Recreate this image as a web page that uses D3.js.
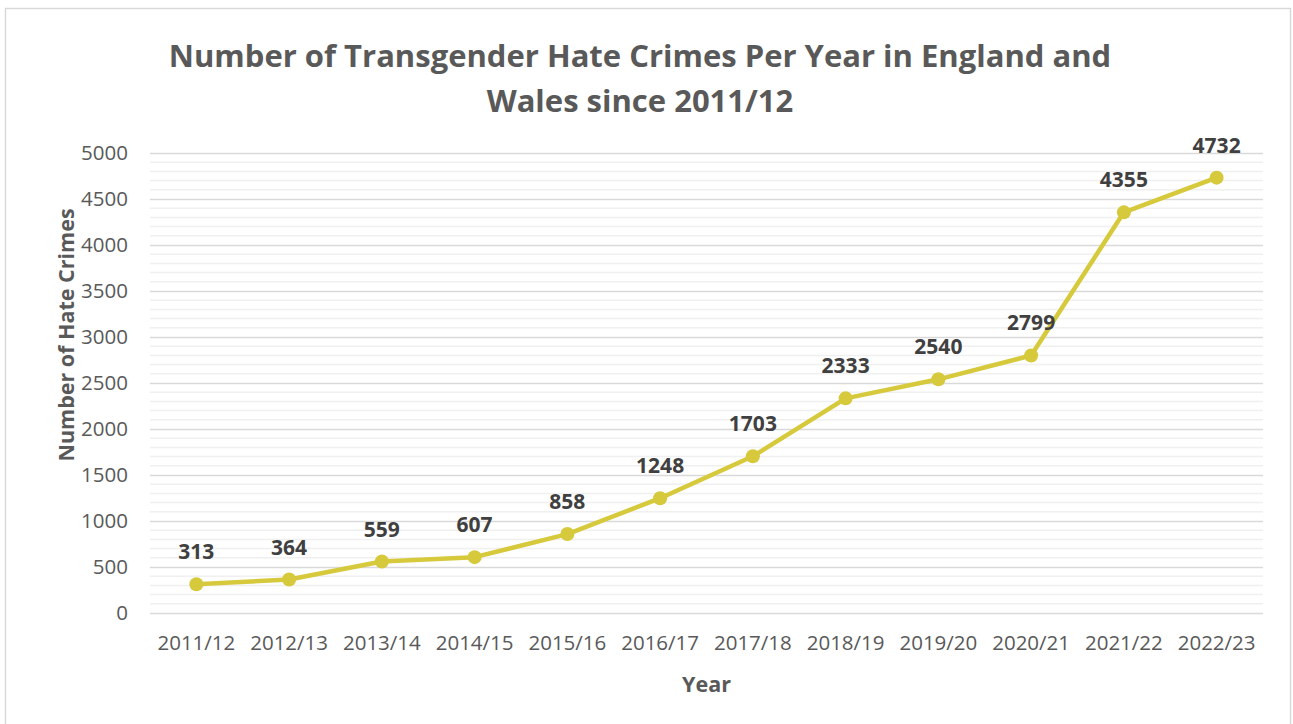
<!DOCTYPE html>
<html>
<head>
<meta charset="utf-8">
<script src="https://cdn.jsdelivr.net/npm/d3@7"></script>
<style>
  html, body { margin: 0; padding: 0; background: #fff; }
  svg { display: block; }
</style>
</head>
<body>
<svg id="chart" width="1293" height="724"></svg>
<script>
// Transgender hate crimes recorded by police, England and Wales
const years = ["2011/12", "2012/13", "2013/14", "2014/15", "2015/16", "2016/17",
               "2017/18", "2018/19", "2019/20", "2020/21", "2021/22", "2022/23"];
const crimes = [313, 364, 559, 607, 858, 1248, 1703, 2333, 2540, 2799, 4355, 4732];
const yTicks = [0, 500, 1000, 1500, 2000, 2500, 3000, 3500, 4000, 4500, 5000];
const titleLines = ["Number of Transgender Hate Crimes Per Year in England and", "Wales since 2011/12"];
const xTitle = "Year";
const yTitle = "Number of Hate Crimes";

const font = "'Open Sans', sans-serif";
const svg = d3.select("#chart");

const plot = { left: 150, right: 1263, top: 153, bottom: 613 };

// Chart frame
svg.append("rect")
  .attr("x", 5.5).attr("y", 8.5)
  .attr("width", 1285).attr("height", 730)
  .attr("fill", "#fff")
  .attr("stroke", "#d9d9d9").attr("stroke-width", 1.5);

const x = d3.scaleBand().domain(years).range([plot.left, plot.right]);
const y = d3.scaleLinear().domain([0, 5000]).range([plot.bottom, plot.top]);

// Minor gridlines every 100
const minor = d3.range(0, 5001, 100).filter(v => v % 500 !== 0);
svg.append("g").selectAll("line").data(minor).join("line")
  .attr("x1", plot.left).attr("x2", plot.right)
  .attr("y1", d => y(d)).attr("y2", d => y(d))
  .attr("stroke", "#f0f0f0").attr("stroke-width", 1.5);

// Major gridlines and y-axis labels
const yAxis = d3.axisLeft(y).tickValues(yTicks).tickFormat(d3.format("d"))
  .tickSize(-(plot.right - plot.left)).tickPadding(22);
const gy = svg.append("g").attr("transform", `translate(${plot.left},0)`).call(yAxis);
gy.select(".domain").remove();
gy.selectAll(".tick line").attr("stroke", "#d9d9d9").attr("stroke-width", 1.5);
gy.selectAll(".tick text")
  .attr("fill", "#595959").style("font-family", font).style("font-size", "20.5px");

// X-axis labels
const xAxis = d3.axisBottom(x).tickSize(0).tickPadding(22);
const gx = svg.append("g").attr("transform", `translate(0,${plot.bottom})`).call(xAxis);
gx.select(".domain").remove();
gx.selectAll(".tick text")
  .attr("fill", "#595959").style("font-family", font).style("font-size", "20.5px");

// Title
svg.append("g").selectAll("text").data(titleLines).join("text")
  .attr("x", 640).attr("y", (d, i) => 67 + i * 45)
  .attr("text-anchor", "middle")
  .attr("fill", "#595959")
  .style("font-family", font).style("font-weight", "bold").style("font-size", "31px")
  .text(d => d);

// Axis titles
svg.append("text")
  .attr("x", (plot.left + plot.right) / 2).attr("y", 692)
  .attr("text-anchor", "middle").attr("fill", "#595959")
  .style("font-family", font).style("font-weight", "bold").style("font-size", "21.5px")
  .text(xTitle);

svg.append("text")
  .attr("transform", "translate(74,335) rotate(-90)")
  .attr("text-anchor", "middle").attr("fill", "#595959")
  .style("font-family", font).style("font-weight", "bold").style("font-size", "21.5px")
  .text(yTitle);

// Series line
const cx = d => x(d) + x.bandwidth() / 2;
const line = d3.line().x((d, i) => cx(years[i])).y(d => y(d));
svg.append("path")
  .datum(crimes)
  .attr("d", line)
  .attr("fill", "none")
  .attr("stroke", "#d7c93c")
  .attr("stroke-width", 4.5)
  .attr("stroke-linejoin", "round");

// Markers
svg.append("g").selectAll("circle").data(crimes).join("circle")
  .attr("cx", (d, i) => cx(years[i]))
  .attr("cy", d => y(d))
  .attr("r", 7)
  .attr("fill", "#d7c93c");

// Data labels
svg.append("g").selectAll("text").data(crimes).join("text")
  .attr("x", (d, i) => cx(years[i]))
  .attr("y", d => y(d) - 25)
  .attr("text-anchor", "middle")
  .attr("fill", "#404040")
  .style("font-family", font).style("font-weight", "bold").style("font-size", "21px")
  .text(d => d);
</script>
</body>
</html>
